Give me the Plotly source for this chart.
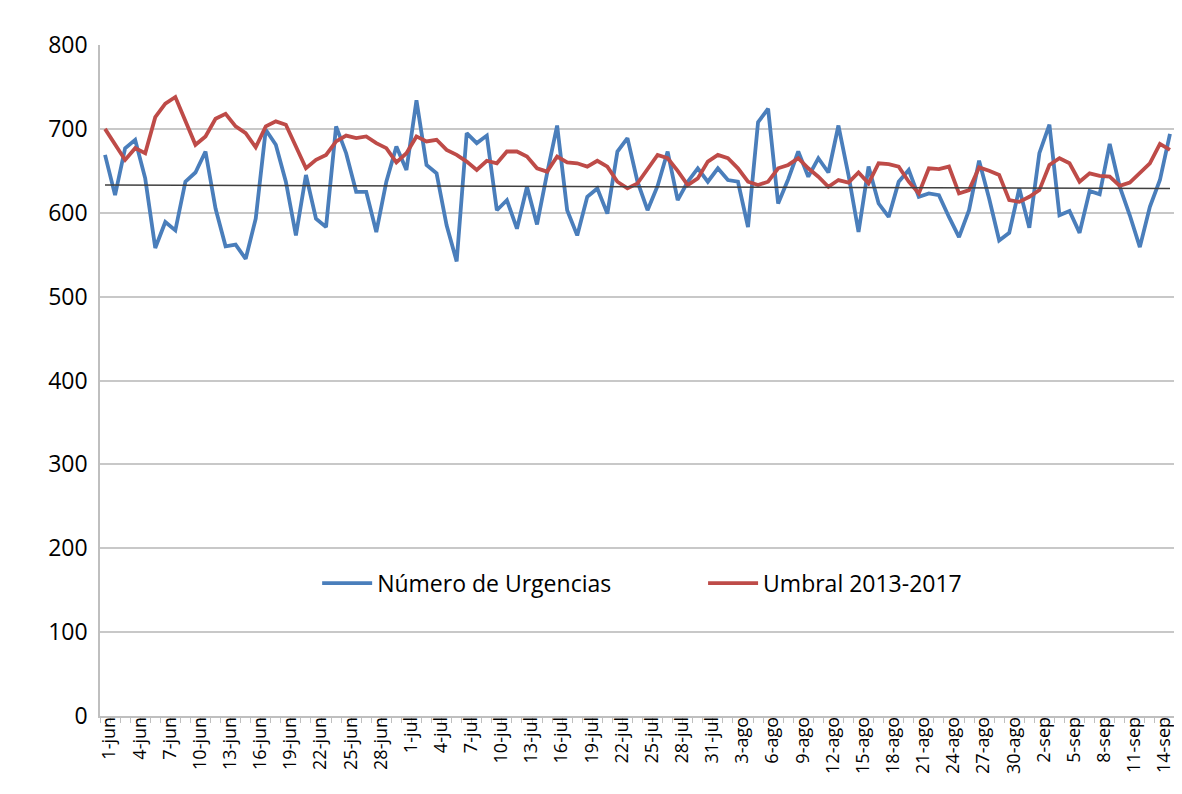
import plotly.graph_objects as go

meses = [("jun", 30), ("jul", 31), ("ago", 31), ("sep", 15)]
fechas = [f"{d}-{m}" for m, n in meses for d in range(1, n + 1)]

urgencias = [
    669, 621, 677, 687, 641, 558, 589, 579, 637, 648,
    673, 605, 560, 562, 545, 593, 699, 681, 637, 573,
    645, 593, 583, 703, 671, 625, 625, 577, 637, 679,
    651, 734, 657, 647, 585, 542, 695, 683, 692, 603,
    615, 581, 631, 586, 647, 704, 603, 573, 619, 629,
    599, 673, 689, 637, 603, 632, 673, 615, 637, 653,
    637, 653, 639, 637, 583, 708, 724, 611, 640, 673,
    643, 665, 648, 704, 645, 577, 655, 611, 595, 637,
    651, 619, 623, 621, 595, 571, 603, 662, 617, 567,
    576, 629, 582, 671, 705, 597, 602, 576, 626, 622,
    682, 631, 597, 559, 607, 639, 694,
]

umbral = [
    700, 681, 663, 677, 671, 714, 730, 738, 708, 681,
    691, 712, 718, 703, 695, 678, 703, 709, 705, 679,
    653, 663, 669, 685, 692, 689, 691, 683, 677, 660,
    671, 691, 685, 687, 675, 669, 661, 651, 662, 659,
    673, 673, 667, 653, 649, 667, 660, 659, 655, 662,
    655, 637, 629, 635, 652, 669, 665, 650, 633, 641,
    661, 669, 665, 653, 637, 633, 637, 653, 657, 665,
    653, 643, 631, 639, 636, 648, 635, 659, 658, 655,
    637, 623, 653, 652, 655, 623, 627, 654, 650, 645,
    615, 613, 619, 627, 657, 665, 659, 637, 647, 644,
    643, 632, 636, 647, 659, 682, 675,
]

tendencia = [633, 629]  # valores inicial y final de la línea de tendencia

y_ticks = [0, 100, 200, 300, 400, 500, 600, 700, 800]

idx = list(range(len(fechas)))

FONT = "Open Sans, Noto Sans, sans-serif"

fig = go.Figure()
fig.add_trace(go.Scatter(
    x=idx, y=urgencias, mode="lines", name="Número de Urgencias",
    line=dict(color="#4A7EBB", width=3.8), customdata=fechas, legend="legend",
))
fig.add_trace(go.Scatter(
    x=idx, y=umbral, mode="lines", name="Umbral 2013-2017",
    line=dict(color="#BE4B48", width=3.8), customdata=fechas, legend="legend2",
))
fig.add_trace(go.Scatter(
    x=[idx[0], idx[-1]], y=tendencia, mode="lines", showlegend=False,
    line=dict(color="#404040", width=1.5),
))

leg = dict(
    orientation="h", yanchor="middle", xanchor="left", itemwidth=50,
    font=dict(size=23, color="#000000", family=FONT), bgcolor="rgba(0,0,0,0)",
)
fig.update_layout(
    width=1174, height=786,
    margin=dict(l=92, r=7, t=37, b=78),
    paper_bgcolor="white", plot_bgcolor="white",
    font=dict(family=FONT, color="#000000"),
    showlegend=True,
    legend=dict(x=0.202, y=0.198, **leg),
    legend2=dict(x=0.561, y=0.198, **leg),
)
fig.update_xaxes(
    range=[-0.5, len(fechas) - 0.5],
    tickmode="array", tickvals=[i + 0.45 for i in idx[::3]], ticktext=fechas[::3],
    tickangle=-90, tickfont=dict(size=18),
    ticks="", showgrid=False, zeroline=False,
    showline=True, linecolor="#BFBFBF", linewidth=1.5,
    ticklabelstandoff=-8,
    minor=dict(ticks="outside", tick0=-0.5, dtick=1, ticklen=5,
               tickcolor="#BFBFBF", tickwidth=1, showgrid=False),
)
fig.update_yaxes(
    range=[0, 800], tickmode="array", tickvals=y_ticks,
    tickfont=dict(size=23), showgrid=True, gridcolor="#C8C8C8", gridwidth=1.5,
    zeroline=False, showline=True, linecolor="#BFBFBF", linewidth=1.5,
    ticks="", ticklabelstandoff=6,
)

fig.write_html("out.html")
